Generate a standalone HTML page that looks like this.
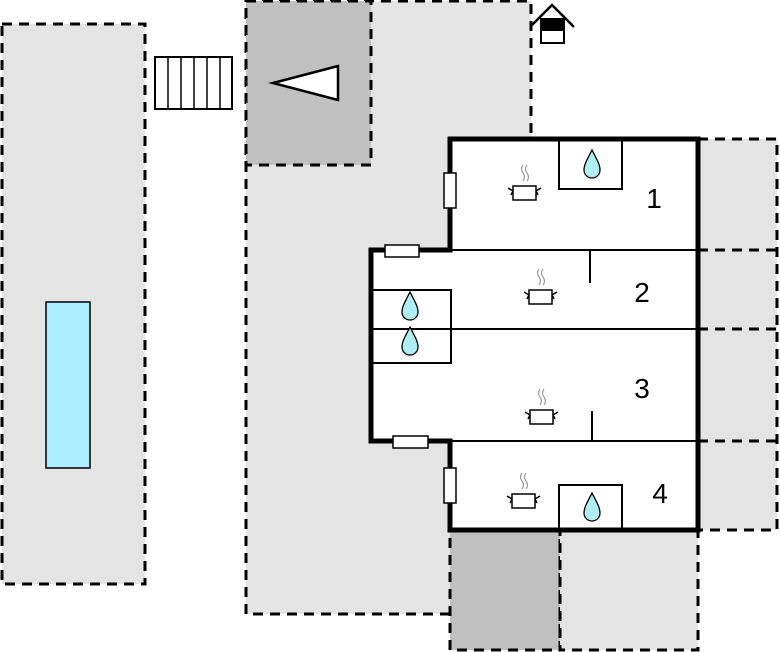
<!DOCTYPE html>
<html><head><meta charset="utf-8"><style>html,body{margin:0;padding:0;background:#fff}svg{display:block}</style></head>
<body>
<svg width="780" height="652" viewBox="0 0 780 652" xmlns="http://www.w3.org/2000/svg">
<defs>
<g id="pot">
<path d="M-1,-28 q-3,4 0,8 q3,4 0,8" fill="none" stroke="#999" stroke-width="1.2"/>
<path d="M3,-28 q-3,4 0,8 q3,4 0,8" fill="none" stroke="#999" stroke-width="1.2"/>
<rect x="-11" y="-7" width="23" height="14" fill="#fff" stroke="#000" stroke-width="1.5"/>
<path d="M-11,-2 L-16,-5 M-11,-2 L-13,2 M12,-2 L17,-5 M12,-2 L14,2" stroke="#000" stroke-width="1.5" fill="none"/>
</g>
<path id="drop" d="M0,-14 C-4,-6 -8,0 -8,6 A8,8 0 0 0 8,6 C8,0 4,-6 0,-14 Z" fill="#aeeef4" stroke="#000" stroke-width="1.3"/>
</defs>
<g stroke="#000" stroke-width="3" stroke-dasharray="10,7">
<rect x="2" y="24" width="143" height="560" fill="#e4e4e4"/>
<rect x="246" y="1" width="285" height="613" fill="#e4e4e4" stroke="none"/>
<path d="M450,614 L246,614 L246,1 L531,1 L531,139" fill="none"/>
<rect x="246" y="1" width="125" height="164" fill="#c0c0c0"/>
<rect x="698" y="139" width="79" height="391" fill="#e4e4e4"/>
<path d="M698,250 H777 M698,329 H777 M698,441 H777" fill="none"/>
<rect x="450" y="530" width="110" height="120" fill="#c0c0c0"/>
<rect x="560" y="530" width="138" height="120" fill="#e4e4e4"/>
</g>
<rect x="46" y="302" width="44" height="166" fill="#aef" stroke="#000" stroke-width="1.5"/>
<rect x="155" y="57" width="77" height="52" fill="#fff" stroke="#000" stroke-width="2"/>
<path d="M168,57V109 M181,57V109 M194,57V109 M207,57V109 M220,57V109" stroke="#000" stroke-width="1.5"/>
<polygon points="273,83 338,66 338,100" fill="#fff" stroke="#000" stroke-width="2.5"/>
<path d="M532,25 L552,5 L574,27" fill="none" stroke="#000" stroke-width="2.5"/>
<rect x="541" y="19" width="23" height="24" fill="#fff" stroke="#000" stroke-width="2"/>
<rect x="541" y="19" width="23" height="12" fill="#000"/>
<path d="M450,139 H698 V530 H450 V441 H371 V250 H450 Z" fill="#fff"/>
<g stroke="#000" stroke-width="2" fill="none">
<path d="M450,250 H698 M371,329 H698 M450,441 H698 M590,250 V283 M592,411 V441"/>
<rect x="559" y="139" width="63" height="50"/>
<rect x="559" y="485" width="63" height="45"/>
<rect x="371" y="290" width="80" height="39"/>
<rect x="371" y="329" width="80" height="34"/>
</g>
<path d="M450,139 H698 V530 H450 V441 H371 V250 H450 Z" fill="none" stroke="#000" stroke-width="5"/>
<g fill="#fff" stroke="#000" stroke-width="1.5">
<rect x="444" y="173" width="12" height="35"/>
<rect x="385" y="245" width="34" height="12"/>
<rect x="393" y="436" width="35" height="12"/>
<rect x="444" y="468" width="12" height="35"/>
</g>
<use href="#pot" x="524" y="193"/>
<use href="#pot" x="540" y="297"/>
<use href="#pot" x="541" y="417"/>
<use href="#pot" x="523" y="501"/>
<use href="#drop" x="592" y="164"/>
<use href="#drop" x="410" y="306"/>
<use href="#drop" x="410" y="341"/>
<use href="#drop" x="592" y="507"/>
<g font-family="Liberation Sans, sans-serif" font-size="28" fill="#000" text-anchor="middle">
<text x="654" y="208">1</text>
<text x="642" y="302">2</text>
<text x="642" y="398">3</text>
<text x="660" y="503">4</text>
</g>
</svg>
</body></html>
